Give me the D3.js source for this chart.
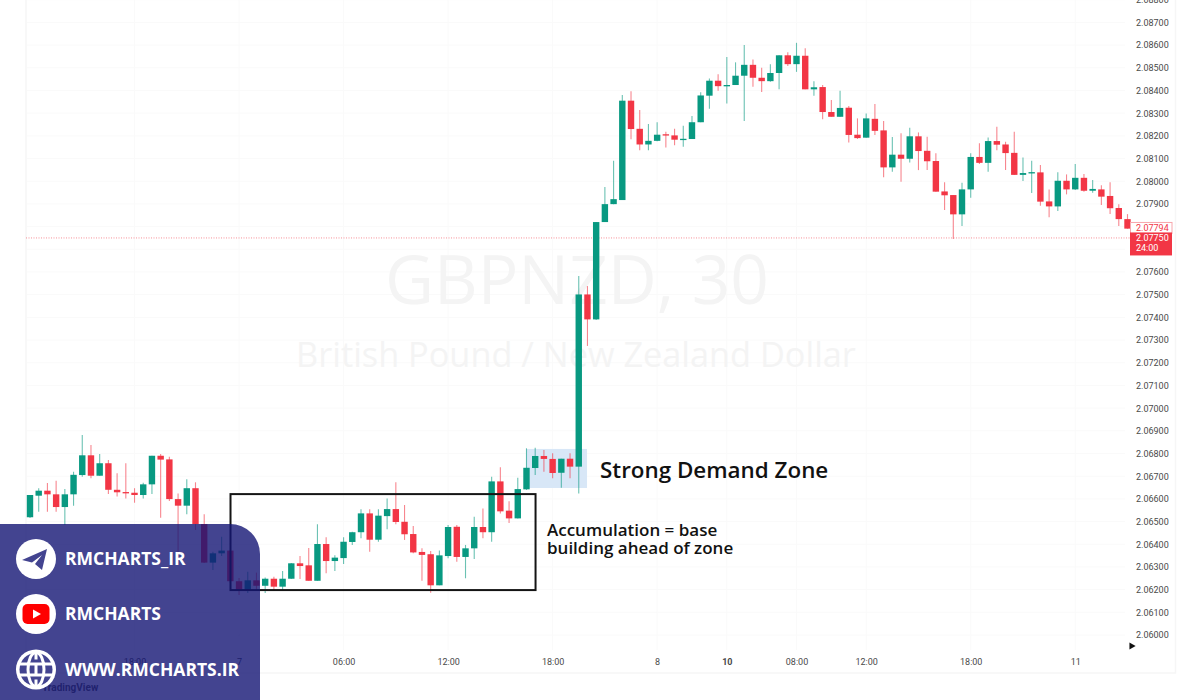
<!DOCTYPE html>
<html>
<head>
<meta charset="utf-8">
<title>GBPNZD, 30</title>
<script src="https://cdn.jsdelivr.net/npm/d3@7"></script>
<style>
  html, body { margin: 0; padding: 0; background: #fff; overflow: hidden; }
  svg { display: block; }
</style>
</head>
<body>
<script>
// candle values, one entry per 30 minute bar
var opens = [2.06519,2.06614,2.06636,2.06620,2.06564,2.06620,2.06705,2.06792,2.06702,2.06757,2.06640,2.06630,2.06627,2.06617,2.06664,2.06790,2.06774,2.06599,2.06570,2.06647,2.06489,2.06319,2.06360,2.06372,2.06237,2.06198,2.06241,2.06217,2.06248,2.06213,2.06248,2.06316,2.06307,2.06239,2.06401,2.06326,2.06339,2.06410,2.06453,2.06536,2.06420,2.06524,2.06555,2.06499,2.06445,2.06366,2.06356,2.06219,2.06348,2.06477,2.06344,2.06382,2.06476,2.06453,2.06677,2.06548,2.06514,2.06642,2.06736,2.06789,2.06776,2.06715,2.06777,2.06742,2.07501,2.07391,2.07820,2.07899,2.07917,2.08355,2.08231,2.08162,2.08178,2.08207,2.08202,2.08183,2.08186,2.08260,2.08377,2.08443,2.08419,2.08424,2.08465,2.08513,2.08456,2.08441,2.08477,2.08555,2.08516,2.08553,2.08405,2.08415,2.08305,2.08284,2.08324,2.08205,2.08192,2.08275,2.08224,2.08061,2.08117,2.08099,2.08198,2.08134,2.08089,2.07955,2.07939,2.07854,2.07964,2.08107,2.08081,2.08177,2.08162,2.08125,2.08028,2.08037,2.08039,2.07911,2.07889,2.08002,2.07964,2.08015,2.07958,2.07964,2.07935,2.07882,2.07833]
var highs = [2.06617,2.06647,2.06670,2.06680,2.06643,2.06720,2.06881,2.06837,2.06798,2.06771,2.06713,2.06757,2.06647,2.06671,2.06790,2.06798,2.06786,2.06624,2.06687,2.06673,2.06532,2.06367,2.06433,2.06375,2.06251,2.06279,2.06275,2.06253,2.06257,2.06282,2.06317,2.06348,2.06383,2.06488,2.06431,2.06351,2.06431,2.06455,2.06554,2.06554,2.06554,2.06602,2.06673,2.06573,2.06480,2.06382,2.06370,2.06372,2.06485,2.06485,2.06397,2.06521,2.06558,2.06698,2.06739,2.06589,2.06693,2.06823,2.06825,2.06815,2.06801,2.06777,2.06801,2.07582,2.07538,2.07820,2.07974,2.08090,2.08380,2.08396,2.08314,2.08252,2.08260,2.08218,2.08231,2.08245,2.08287,2.08392,2.08453,2.08472,2.08547,2.08524,2.08600,2.08537,2.08500,2.08515,2.08555,2.08568,2.08610,2.08586,2.08441,2.08424,2.08358,2.08399,2.08331,2.08277,2.08299,2.08340,2.08265,2.08195,2.08211,2.08236,2.08215,2.08196,2.08123,2.07995,2.07939,2.07993,2.08123,2.08167,2.08193,2.08240,2.08174,2.08218,2.08105,2.08090,2.08071,2.07964,2.08039,2.08030,2.08076,2.08032,2.08005,2.07982,2.07995,2.07899,2.07855]
var lows = [2.06516,2.06543,2.06543,2.06543,2.06485,2.06570,2.06698,2.06691,2.06702,2.06621,2.06610,2.06602,2.06583,2.06602,2.06621,2.06517,2.06591,2.06361,2.06532,2.06463,2.06317,2.06286,2.06348,2.06229,2.06176,2.06185,2.06198,2.06185,2.06198,2.06194,2.06247,2.06247,2.06239,2.06239,2.06272,2.06282,2.06313,2.06397,2.06426,2.06367,2.06411,2.06466,2.06488,2.06419,2.06360,2.06239,2.06186,2.06219,2.06338,2.06323,2.06250,2.06335,2.06426,2.06411,2.06536,2.06494,2.06514,2.06639,2.06705,2.06720,2.06691,2.06649,2.06691,2.06624,2.07274,2.07388,2.07820,2.07899,2.07917,2.08185,2.08137,2.08136,2.08176,2.08149,2.08159,2.08152,2.08186,2.08260,2.08319,2.08399,2.08343,2.08424,2.08265,2.08416,2.08393,2.08438,2.08405,2.08508,2.08482,2.08405,2.08377,2.08273,2.08284,2.08284,2.08171,2.08186,2.08192,2.08204,2.08017,2.08042,2.07998,2.08083,2.08049,2.08049,2.07954,2.07873,2.07745,2.07803,2.07927,2.08076,2.08042,2.08137,2.08049,2.08027,2.08001,2.07948,2.07892,2.07841,2.07869,2.07942,2.07961,2.07954,2.07949,2.07895,2.07855,2.07803,2.07791]
var closes = [2.06617,2.06636,2.06620,2.06564,2.06620,2.06706,2.06792,2.06702,2.06757,2.06640,2.06629,2.06627,2.06617,2.06664,2.06790,2.06773,2.06599,2.06570,2.06647,2.06489,2.06319,2.06360,2.06372,2.06237,2.06198,2.06241,2.06217,2.06248,2.06213,2.06248,2.06316,2.06304,2.06239,2.06401,2.06326,2.06341,2.06411,2.06453,2.06536,2.06420,2.06526,2.06555,2.06498,2.06444,2.06364,2.06353,2.06219,2.06351,2.06476,2.06344,2.06382,2.06476,2.06453,2.06677,2.06545,2.06514,2.06643,2.06737,2.06789,2.06776,2.06714,2.06777,2.06742,2.07501,2.07391,2.07820,2.07899,2.07921,2.08355,2.08230,2.08162,2.08178,2.08205,2.08202,2.08183,2.08187,2.08260,2.08378,2.08443,2.08419,2.08424,2.08465,2.08513,2.08456,2.08441,2.08477,2.08555,2.08516,2.08553,2.08405,2.08414,2.08305,2.08284,2.08323,2.08204,2.08190,2.08277,2.08222,2.08061,2.08117,2.08099,2.08198,2.08133,2.08088,2.07954,2.07938,2.07854,2.07964,2.08107,2.08081,2.08177,2.08161,2.08124,2.08028,2.08036,2.08040,2.07910,2.07889,2.08002,2.07964,2.08015,2.07958,2.07966,2.07932,2.07881,2.07833,2.07791]

// time axis labels and the bar each one sits on
var timeLabels = ["18:00","7","06:00","12:00","18:00","8","10","08:00","12:00","18:00","11"]
var timeBars = [12,24,36,48,60,72,80,88,96,108,120]
var boldLabels = ["10"]

// price axis labels, 2.077 and 2.078 are covered by the price boxes
var priceTicks = d3.range(2.060, 2.0885, 0.001).map(function(d){ return +d.toFixed(3) })
var hiddenTicks = [2.077, 2.078]

var lastPrice = 2.07750
var closePrice = 2.07794

// annotation extents, in bars and prices
var zoneBars = [56.95, 63.95]
var zonePrices = [2.06648, 2.06820]
var boxBars = [23.02, 58.04]
var boxPrices = [2.06198, 2.06621]

var socialLabels = ["RMCHARTS_IR","RMCHARTS","WWW.RMCHARTS.IR"]

var up = "#089981", down = "#f23645", indigo = "#434490"

var width = 1200, height = 700
var svg = d3.select("body").append("svg").attr("width", width).attr("height", height)
var candles = d3.range(opens.length)

var x = d3.scaleLinear().domain([0, 126]).range([30, 1127.5])
var y = d3.scaleLinear().domain([2.060, 2.087]).range([635, 22.4])

svg.append("rect").attr("width", width).attr("height", height).attr("fill", "#fff")

//frame of the screenshot, right and bottom edges
svg.append("path")
    .attr("d", "M26,0V673H1175.5V0")
    .attr("fill", "none")
    .attr("stroke", "#f6f6f6")
    .attr("stroke-width", 1.5)

//very faint grid
svg.append("g").selectAll("line").data(priceTicks).enter().append("line")
    .attr("x1", 27).attr("x2", 1125)
    .attr("y1", function(d){ return y(d) }).attr("y2", function(d){ return y(d) })
    .attr("stroke", "#fafafa")
svg.append("g").selectAll("line").data(timeBars).enter().append("line")
    .attr("x1", function(d){ return x(d) }).attr("x2", function(d){ return x(d) })
    .attr("y1", 0).attr("y2", 650)
    .attr("stroke", "#fafafa")

//watermark
svg.append("text").text("GBPNZD, 30")
    .attr("x", 577).attr("y", 304)
    .attr("text-anchor", "middle")
    .attr("font-family", "Open Sans")
    .style("font-size", "67.5px")
    .attr("fill", "#f4f4f4")
svg.append("text").text("British Pound / New Zealand Dollar")
    .attr("x", 576).attr("y", 367)
    .attr("text-anchor", "middle")
    .attr("font-family", "Open Sans")
    .style("font-size", "34.3px")
    .attr("fill", "#f4f4f4")

//demand zone sits under the candles
svg.append("rect")
    .attr("x", x(zoneBars[0])).attr("y", y(zonePrices[1]))
    .attr("width", x(zoneBars[1]) - x(zoneBars[0]))
    .attr("height", y(zonePrices[0]) - y(zonePrices[1]))
    .attr("fill", "#d8e7f7")

//last price line
svg.append("line")
    .attr("x1", 26).attr("x2", 1130)
    .attr("y1", y(lastPrice)).attr("y2", y(lastPrice))
    .attr("stroke", down)
    .attr("stroke-opacity", 0.55)
    .attr("stroke-dasharray", "1 1.5")

function candleColor(i){ return closes[i] >= opens[i] ? up : down }

//wicks first then bodies
svg.append("g").selectAll("line").data(candles).enter().append("line")
    .attr("x1", function(i){ return x(i) }).attr("x2", function(i){ return x(i) })
    .attr("y1", function(i){ return y(highs[i]) }).attr("y2", function(i){ return y(lows[i]) })
    .attr("stroke", candleColor)
    .attr("stroke-opacity", 0.6)
    .attr("stroke-width", 1.1)

svg.append("g").selectAll("rect").data(candles).enter().append("rect")
    .attr("x", function(i){ return x(i) - 3.2 })
    .attr("width", 6.4)
    .attr("y", function(i){ return y(Math.max(opens[i], closes[i])) })
    .attr("height", function(i){ return Math.max(1.3, Math.abs(y(opens[i]) - y(closes[i]))) })
    .attr("fill", candleColor)

//price axis on the right
var yAxis = d3.axisRight(y)
    .tickValues(priceTicks.filter(function(d){ return hiddenTicks.indexOf(d) < 0 }))
    .tickSize(0)
    .tickPadding(0)
    .tickFormat(d3.format(".5f"))
var yG = svg.append("g").attr("transform", "translate(1136,0)").call(yAxis)
yG.select(".domain").remove()
yG.selectAll("text")
    .attr("font-family", "Roboto")
    .style("font-size", "9px")
    .attr("fill", "#4a4a4a")

//time axis
var xAxis = d3.axisBottom(x)
    .tickValues(timeBars)
    .tickSize(0)
    .tickPadding(0)
    .tickFormat(function(d, i){ return timeLabels[i] })
var xG = svg.append("g").attr("transform", "translate(0,659)").call(xAxis)
xG.select(".domain").remove()
xG.selectAll("text")
    .attr("font-family", "Roboto")
    .style("font-size", "9px")
    .attr("font-weight", function(d, i){ return boldLabels.indexOf(timeLabels[i]) >= 0 ? 700 : 400 })
    .attr("fill", "#4a4a4a")

//scroll arrow
svg.append("path")
    .attr("d", d3.symbol().type(d3.symbolTriangle).size(22))
    .attr("transform", "translate(1131.5,646) rotate(90)")
    .attr("fill", "#111")

//price labels
svg.append("rect")
    .attr("x", 1130.5).attr("y", y(closePrice) - 5.5)
    .attr("width", 41.5).attr("height", 11)
    .attr("fill", "#fff").attr("stroke", "#f7a6ac")
svg.append("text").text(d3.format(".5f")(closePrice))
    .attr("x", 1136).attr("y", y(closePrice) + 3.3)
    .attr("font-family", "Roboto").style("font-size", "9px")
    .attr("fill", down)
svg.append("rect")
    .attr("x", 1130).attr("y", y(lastPrice) - 5.5)
    .attr("width", 42).attr("height", 23)
    .attr("fill", down)
svg.append("text").text(d3.format(".5f")(lastPrice))
    .attr("x", 1136).attr("y", y(lastPrice) + 3.3)
    .attr("font-family", "Roboto").style("font-size", "9px")
    .attr("fill", "#fff")
svg.append("text").text("24:00")
    .attr("x", 1136).attr("y", y(lastPrice) + 13.5)
    .attr("font-family", "Roboto").style("font-size", "9px")
    .attr("fill", "#fff")

//accumulation box
svg.append("rect")
    .attr("x", x(boxBars[0])).attr("y", y(boxPrices[1]))
    .attr("width", x(boxBars[1]) - x(boxBars[0]))
    .attr("height", y(boxPrices[0]) - y(boxPrices[1]))
    .attr("fill", "none")
    .attr("stroke", "#141414")
    .attr("stroke-width", 2)

//annotations
svg.append("text").text("Strong Demand Zone")
    .attr("x", 600).attr("y", 477.5)
    .attr("font-family", "Open Sans")
    .attr("font-weight", 600)
    .style("font-size", "22.4px")
    .attr("fill", "#111")
svg.append("text").text("Accumulation = base")
    .attr("x", 547).attr("y", 536)
    .attr("font-family", "Open Sans")
    .attr("font-weight", 600)
    .style("font-size", "17px")
    .attr("fill", "#111")
svg.append("text").text("building ahead of zone")
    .attr("x", 547).attr("y", 554)
    .attr("font-family", "Open Sans")
    .attr("font-weight", 600)
    .style("font-size", "17px")
    .attr("fill", "#111")

//tradingview mark under the panel
svg.append("text").text("TradingView")
    .attr("x", 42).attr("y", 691)
    .attr("font-family", "Roboto")
    .attr("font-weight", 700)
    .style("font-size", "10px")
    .attr("fill", "#555")

//social panel, see-through so the chart shows behind it
svg.append("path")
    .attr("d", "M0,524H230A30,30 0 0 1 260,554V700H0Z")
    .attr("fill", "#141574")
    .attr("fill-opacity", 0.8)

var rowY = [559, 614, 669.5]
var rows = svg.append("g").selectAll("g").data(socialLabels).enter().append("g")
    .attr("transform", function(d, i){ return "translate(36," + rowY[i] + ")" })
rows.append("circle").attr("r", 20).attr("fill", "#fff")
rows.append("text").text(function(d){ return d })
    .attr("x", 29).attr("y", 6)
    .attr("font-family", "Open Sans")
    .attr("font-weight", 700)
    .style("font-size", "17.5px")
    .attr("fill", "#fff")

//telegram plane
rows.filter(function(d, i){ return i == 0 }).append("path")
    .attr("d", "M11,-10L-14,1L-4,3.5L6,-4L-1,5L6,11Z")
    .attr("fill", indigo)

//youtube button
var yt = rows.filter(function(d, i){ return i == 1 })
yt.append("rect").attr("x", -13.5).attr("y", -10).attr("width", 27).attr("height", 20).attr("rx", 5).attr("fill", "#f00")
yt.append("path").attr("d", "M-3,-4.5L5,0L-3,4.5Z").attr("fill", "#fff")

//globe
var globe = rows.filter(function(d, i){ return i == 2 })
globe.append("circle").attr("r", 16.5).attr("fill", indigo)
globe.append("ellipse").attr("rx", 8).attr("ry", 17).attr("fill", "none").attr("stroke", "#fff").attr("stroke-width", 3)
globe.append("path").attr("d", "M-17,-5.5H17M-17,5.5H17M0,-17V-10M0,-5V5M0,10V17").attr("stroke", "#fff").attr("stroke-width", 3)
</script>
</body>
</html>
